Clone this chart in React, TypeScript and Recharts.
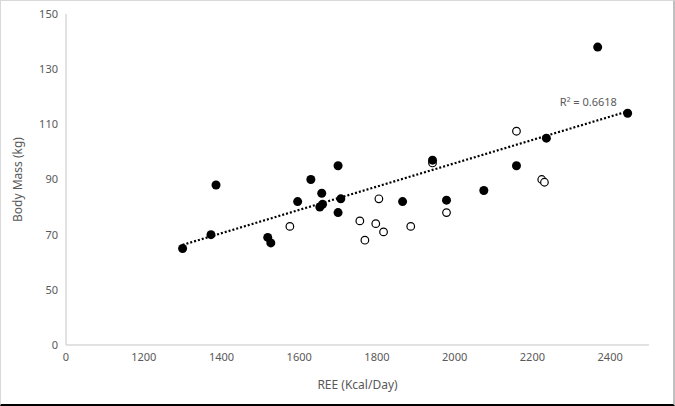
import React from 'react';
import {
  ScatterChart, Scatter, XAxis, YAxis, ReferenceDot, Label,
} from 'recharts';

// REE (kcal/day) vs body mass (kg)
const filledRee = [1300, 1373, 1386, 1519, 1527, 1596, 1630, 1653, 1660, 1658, 1700, 1707, 1700, 1866, 1943, 1979, 2075, 2159, 2236, 2368, 2445];
const filledMass = [65, 70, 88, 69, 67, 82, 90, 80, 81, 85, 95, 83, 78, 82, 97, 82.5, 86, 95, 105, 138, 114];

const openRee = [1576, 1756, 1769, 1797, 1805, 1817, 1887, 1943, 1979, 2159, 2224, 2231];
const openMass = [73, 75, 68, 74, 83, 71, 73, 96, 78, 107.5, 90, 89];

// trend line ends
const trendRee = [1300, 2445];
const trendMass = [66.3, 114.7];

// the axes are broken: the first tick stands for 0
const xTicks = [1000, 1200, 1400, 1600, 1800, 2000, 2200, 2400];
const yTicks = [30, 50, 70, 90, 110, 130, 150];

const filled = filledRee.map((x, i) => ({ x, y: filledMass[i] }));
const open = openRee.map((x, i) => ({ x, y: openMass[i] }));
const trend = trendRee.map((x, i) => ({ x, y: trendMass[i] }));

const FONT = '"Noto Sans", sans-serif';
const tickStyle = { fontSize: 11, fill: '#595959', fontFamily: FONT };

const FilledDot = (p: any) => <circle cx={p.cx} cy={p.cy} r={4.5} fill="#000" />;
const OpenDot = (p: any) => <circle cx={p.cx} cy={p.cy} r={3.8} fill="#fff" stroke="#000" strokeWidth={1.2} />;
const NoDot = () => null;

export default function App() {
  return (
    <div style={{
      position: 'absolute', left: 0, top: 0, width: 675, height: 406, boxSizing: 'border-box',
      background: '#fff', borderTop: '1px solid #d9d9d9', borderLeft: '1px solid #d9d9d9',
      borderRight: '2px solid #bfbfbf', borderBottom: '2px solid #000',
    }}>
      <ScatterChart width={673} height={403} margin={{ top: 13, right: 25, bottom: 13, left: 15 }}>
        <XAxis
          type="number" dataKey="x" domain={[1000, 2500]} ticks={xTicks}
          tickFormatter={(v: number) => (v === 1000 ? '0' : String(v))}
          tick={tickStyle} tickLine={false} axisLine={{ stroke: '#d9d9d9', strokeWidth: 1.5 }}
          height={46} allowDataOverflow
        >
          <Label value="REE (Kcal/Day)" position="insideBottom" offset={2}
            style={{ fontSize: 12, fill: '#595959', fontFamily: FONT }} />
        </XAxis>
        <YAxis
          type="number" dataKey="y" domain={[30, 150]} ticks={yTicks}
          tickFormatter={(v: number) => (v === 30 ? '0' : String(v))}
          tick={tickStyle} tickLine={false} axisLine={{ stroke: '#d9d9d9', strokeWidth: 1.5 }}
          width={50} allowDataOverflow
        >
          <Label value="Body Mass (kg)" angle={-90} position="insideLeft" offset={2}
            style={{ fontSize: 12, fill: '#595959', fontFamily: FONT, textAnchor: 'middle' }} />
        </YAxis>
        <Scatter data={trend} shape={NoDot} isAnimationActive={false}
          line={{ stroke: '#000', strokeWidth: 2.2, strokeDasharray: '2 2' }} />
        <Scatter data={open} shape={OpenDot} isAnimationActive={false} />
        <Scatter data={filled} shape={FilledDot} isAnimationActive={false} />
        <ReferenceDot x={2344} y={118} r={0} ifOverflow="visible">
          <Label value="R² = 0.6618" position="center"
            style={{ fontSize: 11, fill: '#595959', fontFamily: FONT }} />
        </ReferenceDot>
      </ScatterChart>
    </div>
  );
}
